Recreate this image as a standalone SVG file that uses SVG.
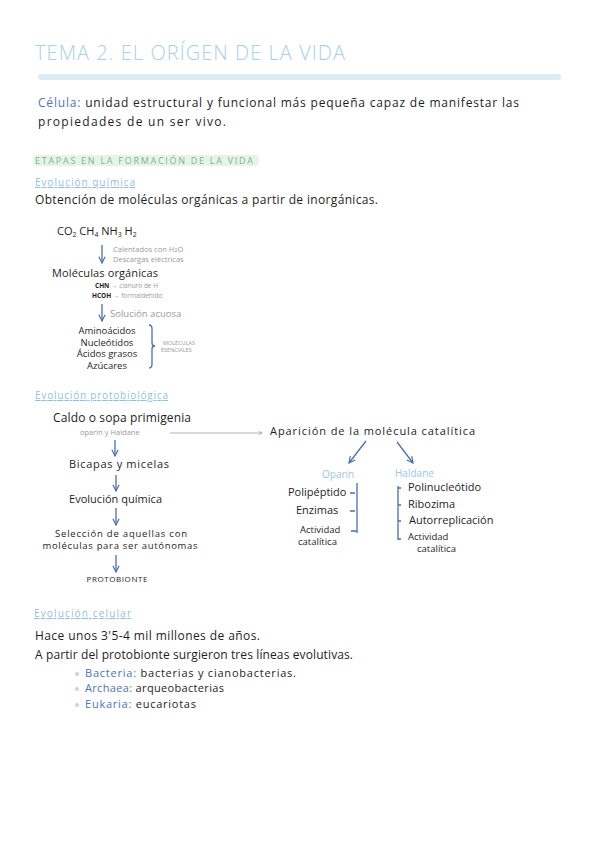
<svg xmlns="http://www.w3.org/2000/svg" width="599" height="848" viewBox="0 0 599 848">
<defs>
<style>
text{font-family:"Open Sans","Noto Sans",sans-serif;fill:#1e1e1e}
.t{font-size:12px}
.s{font-size:11px}
.m{font-size:9.5px}
.h{font-size:10px;fill:#8fbfe3;text-decoration:underline}
.blue{fill:#4b74c0}
.lb{fill:#9cc6e6}
.g{fill:#9a9a9a}
.tiny{font-size:5.5px;fill:#9a9a9a}
.c{text-anchor:middle}
.ln{stroke:#4b6fae;stroke-width:1.3;fill:none}
</style>
<marker id="ah" viewBox="0 0 10 10" refX="9" refY="5" markerWidth="6" markerHeight="6" orient="auto-start-reverse">
<path d="M1,1 L9,5 L1,9" fill="none" stroke="#4b6fae" stroke-width="1.5"/>
</marker>
<marker id="ag" viewBox="0 0 10 10" refX="9" refY="5" markerWidth="5" markerHeight="5" orient="auto">
<path d="M1,1 L9,5 L1,9" fill="none" stroke="#999" stroke-width="1.5"/>
</marker>
</defs>
<rect width="599" height="848" fill="#ffffff"/>

<g id="title">
<text x="35" y="60" style="font-size:20px;fill:#a8d0e8;font-weight:300" textLength="310">TEMA 2. EL ORÍGEN DE LA VIDA</text>
<rect x="38" y="74" width="523" height="6" rx="3" fill="#dcebf4"/>
</g>

<g id="celula">
<text class="t" x="38" y="107" textLength="481"><tspan class="blue">Célula:</tspan> unidad estructural y funcional más pequeña capaz de manifestar las</text>
<text class="t" x="38" y="126" textLength="188">propiedades de un ser vivo.</text>
</g>

<g id="etapas">
<rect x="33" y="155" width="226" height="11" rx="4" fill="#e8f3e8"/>
<text x="35" y="164" style="font-size:9px;fill:#7db58e" textLength="218">ETAPAS EN LA FORMACIÓN DE LA VIDA</text>
</g>

<g id="evq-head">
<text class="h" x="35" y="186" textLength="100">Evolución química</text>
<text class="t" x="35" y="204" textLength="343">Obtención de moléculas orgánicas a partir de inorgánicas.</text>
</g>

<g id="inorg"><text class="s" x="57" y="235">CO<tspan font-size="7" dy="2">2</tspan><tspan dy="-2"> CH</tspan><tspan font-size="7" dy="2">4</tspan><tspan dy="-2"> NH</tspan><tspan font-size="7" dy="2">3</tspan><tspan dy="-2"> H</tspan><tspan font-size="7" dy="2">2</tspan></text></g>
<g id="cond1">
<text class="g" x="113" y="252" style="font-size:7.5px">Calentados con H<tspan font-size="5.5">2</tspan>O</text>
<text class="g" x="113" y="262" style="font-size:7.5px">Descargas eléctricas</text>
</g>
<g id="organicas">
<text class="s" x="52" y="277" textLength="106">Moléculas orgánicas</text>
<text x="95" y="288" style="font-size:6.5px;font-weight:bold">CHN <tspan class="g" font-weight="normal">→ cianuro de H</tspan></text>
<text x="92" y="298" style="font-size:6.5px;font-weight:bold">HCOH <tspan class="g" font-weight="normal">→ formaldehído</tspan></text>
</g>
<g id="cond2"><text class="g" x="110" y="317" style="font-size:9.5px">Solución acuosa</text></g>
<g id="esenciales">
<text class="m c" x="107" y="334">Aminoácidos</text>
<text class="m c" x="107" y="345.5">Nucleótidos</text>
<text class="m c" x="107" y="357">Ácidos grasos</text>
<text class="m c" x="107" y="369">Azúcares</text>
<path class="ln" d="M149,325 Q152,325 152,329 L152,343 Q152,346 155,346 Q152,346 152,349 L152,364 Q152,368 149,368" stroke-width="1.1"/>
<text class="tiny" x="163" y="345">MOLÉCULAS</text>
<text class="tiny" x="161" y="352">ESENCIALES</text>
</g>

<g id="evp-head"><text class="h" x="35" y="399" textLength="133">Evolución protobiológica</text></g>
<g id="caldo">
<text class="t" x="53" y="422" textLength="138">Caldo o sopa primigenia</text>
<text class="g" x="80" y="435" style="font-size:7.5px">oparin y Haldane</text>
</g>
<g id="aparicion"><text class="s" x="270" y="435" textLength="205">Aparición de la molécula catalítica</text></g>
<g id="bicapas"><text class="s" x="69" y="468" textLength="100">Bicapas y micelas</text></g>
<g id="evq2"><text class="s" x="69" y="503" textLength="93">Evolución química</text></g>
<g id="seleccion">
<text class="m c" x="121" y="537" textLength="132">Selección de aquellas con</text>
<text class="m c" x="120" y="549" textLength="155">moléculas para ser autónomas</text>
</g>
<g id="protobionte"><text class="c" x="117" y="582" style="font-size:8px" textLength="61">PROTOBIONTE</text></g>

<g id="oparin">
<text class="lb" x="322" y="478" style="font-size:10px">Oparin</text>
<text class="s" x="288" y="496">Polipéptido</text>
<text class="s" x="296" y="514">Enzimas</text>
<text class="m" x="300" y="533">Actividad</text>
<text class="m" x="298" y="545">catalítica</text>
<path class="ln" d="M357,483 L357,533 M350,493 L355,493 M350,511 L355,511 M351,531 L357,531" stroke-width="1.1"/>
</g>
<g id="haldane">
<text class="lb" x="395" y="477" style="font-size:10px">Haldane</text>
<text class="s" x="408" y="491">Polinucleótido</text>
<text class="s" x="408" y="508">Ribozima</text>
<text class="s" x="409" y="524">Autorreplicación</text>
<text class="m" x="408" y="540">Actividad</text>
<text class="m" x="417" y="552">catalítica</text>
<path class="ln" d="M398,486 L398,540 M398,488 L401,488 M398,505 L401,505 M398,521 L401,521 M398,539 L401,539" stroke-width="1.1"/>
</g>

<g id="connectors">
<line class="ln" x1="102" y1="245" x2="102" y2="263" marker-end="url(#ah)"/>
<line class="ln" x1="102" y1="304" x2="102" y2="321" marker-end="url(#ah)"/>
<line x1="170" y1="433" x2="262" y2="433" stroke="#aaa" stroke-width="0.9" marker-end="url(#ag)"/>
<line class="ln" x1="115" y1="440" x2="115" y2="456" marker-end="url(#ah)"/>
<line class="ln" x1="116" y1="475" x2="116" y2="491" marker-end="url(#ah)"/>
<line class="ln" x1="116" y1="508" x2="116" y2="525" marker-end="url(#ah)"/>
<line class="ln" x1="116" y1="555" x2="116" y2="572" marker-end="url(#ah)"/>
<line class="ln" x1="366" y1="441" x2="349" y2="463" marker-end="url(#ah)"/>
<line class="ln" x1="397" y1="442" x2="413" y2="463" marker-end="url(#ah)"/>
</g>

<g id="evc">
<text class="h" x="34" y="617" textLength="97">Evolución celular</text>
<text class="t" x="35" y="640" textLength="225">Hace unos 3'5-4 mil millones de años.</text>
<text class="t" x="35" y="659" textLength="318">A partir del protobionte surgieron tres líneas evolutivas.</text>
<circle cx="77" cy="674" r="2" fill="#b9d7ee"/>
<circle cx="77" cy="689" r="2" fill="#b9d7ee"/>
<circle cx="77" cy="705" r="2" fill="#b9d7ee"/>
<text class="s" x="85" y="677" textLength="211"><tspan class="blue">Bacteria:</tspan> bacterias y cianobacterias.</text>
<text class="s" x="85" y="692" textLength="139"><tspan class="blue">Archaea:</tspan> arqueobacterias</text>
<text class="s" x="85" y="708" textLength="111"><tspan class="blue">Eukaria:</tspan> eucariotas</text>
</g>
</svg>
